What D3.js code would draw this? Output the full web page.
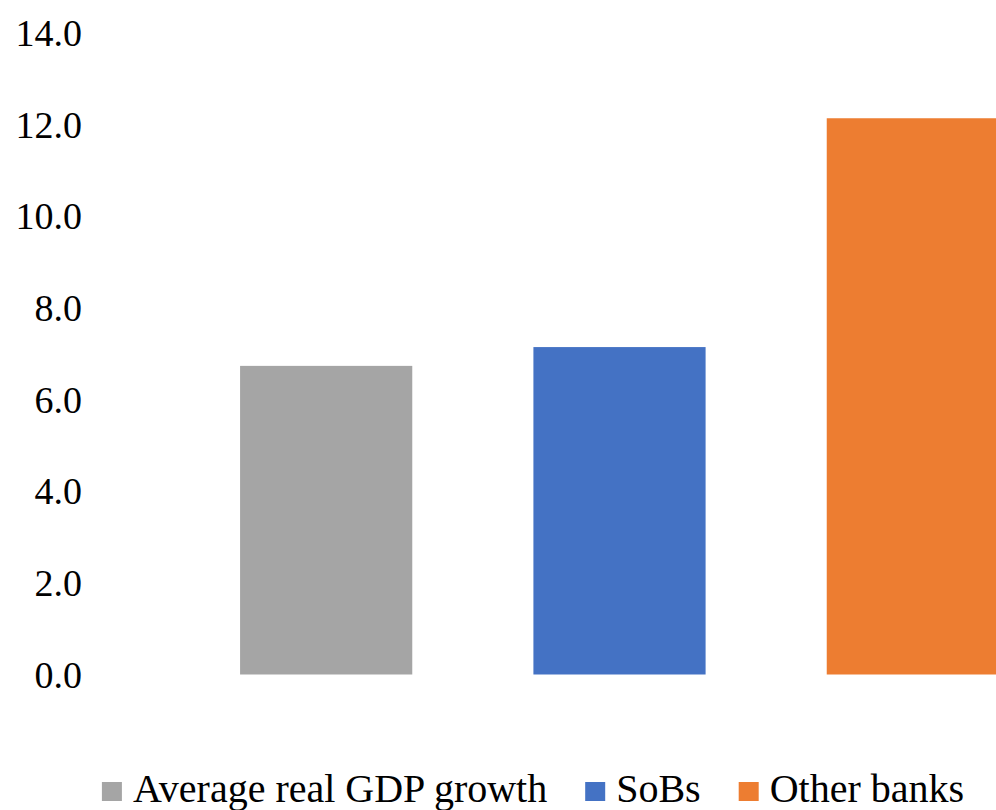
<!DOCTYPE html>
<html>
<head>
<meta charset="utf-8">
<script src="https://cdn.jsdelivr.net/npm/d3@7"></script>
<style>
  html, body { margin: 0; padding: 0; background: #fff; overflow: hidden; }
  text { font-family: "Liberation Serif", "Times New Roman", serif; fill: #000; }
</style>
</head>
<body>
<svg id="canvas"></svg>
<script>
// data
const categories = ["Average real GDP growth", "SoBs", "Other banks"]
const values = [6.73, 7.14, 12.13]
const colors = ["#A5A5A5", "#4472C4", "#ED7D31"]
const yTicks = [0, 2, 4, 6, 8, 10, 12, 14]

const width = 996
const height = 810

let svg = d3.select("#canvas")
    .attr("width", width)
    .attr("height", height)

// plot area runs past the right edge (the picture is cropped)
let x = d3.scaleBand()
    .domain(categories)
    .range([179.5, 1059.5])
    .paddingInner(0.413)
    .paddingOuter(0.2065)

let y = d3.scaleLinear()
    .domain([0, 14])
    .range([674.5, 32.5])

// y axis: labels only, no line or ticks
let yAxis = svg.append("g")
    .attr("transform", "translate(82,0)")
    .call(d3.axisLeft(y)
        .tickValues(yTicks)
        .tickSize(0)
        .tickPadding(0)
        .tickFormat(d3.format(".1f")))
yAxis.select(".domain").remove()
yAxis.selectAll("text")
    .style("font-family", '"Liberation Serif", "Times New Roman", serif')
    .style("font-size", "38px")
    .attr("fill", "#000")
    .attr("dy", "0.34em")

// bars
svg.append("g").selectAll("rect")
    .data(categories)
    .enter().append("rect")
    .attr("x", d => x(d))
    .attr("width", x.bandwidth())
    .attr("y", (d, i) => y(values[i]))
    .attr("height", (d, i) => y(0) - y(values[i]))
    .attr("fill", (d, i) => colors[i])

// legend
let legend = svg.append("g")
let cursor = 0
categories.forEach((c, i) => {
    let item = legend.append("g").attr("transform", `translate(${cursor},0)`)
    item.append("rect")
        .attr("x", 0)
        .attr("y", -20)
        .attr("width", 20)
        .attr("height", 19)
        .attr("fill", colors[i])
    let t = item.append("text")
        .attr("x", 31)
        .attr("y", 0)
        .style("font-size", "40px")
        .text(c)
    cursor += 31 + t.node().getComputedTextLength() + 38
})
let legendWidth = cursor - 38
legend.attr("transform", `translate(${533 - legendWidth / 2},802)`)
</script>
</body>
</html>
